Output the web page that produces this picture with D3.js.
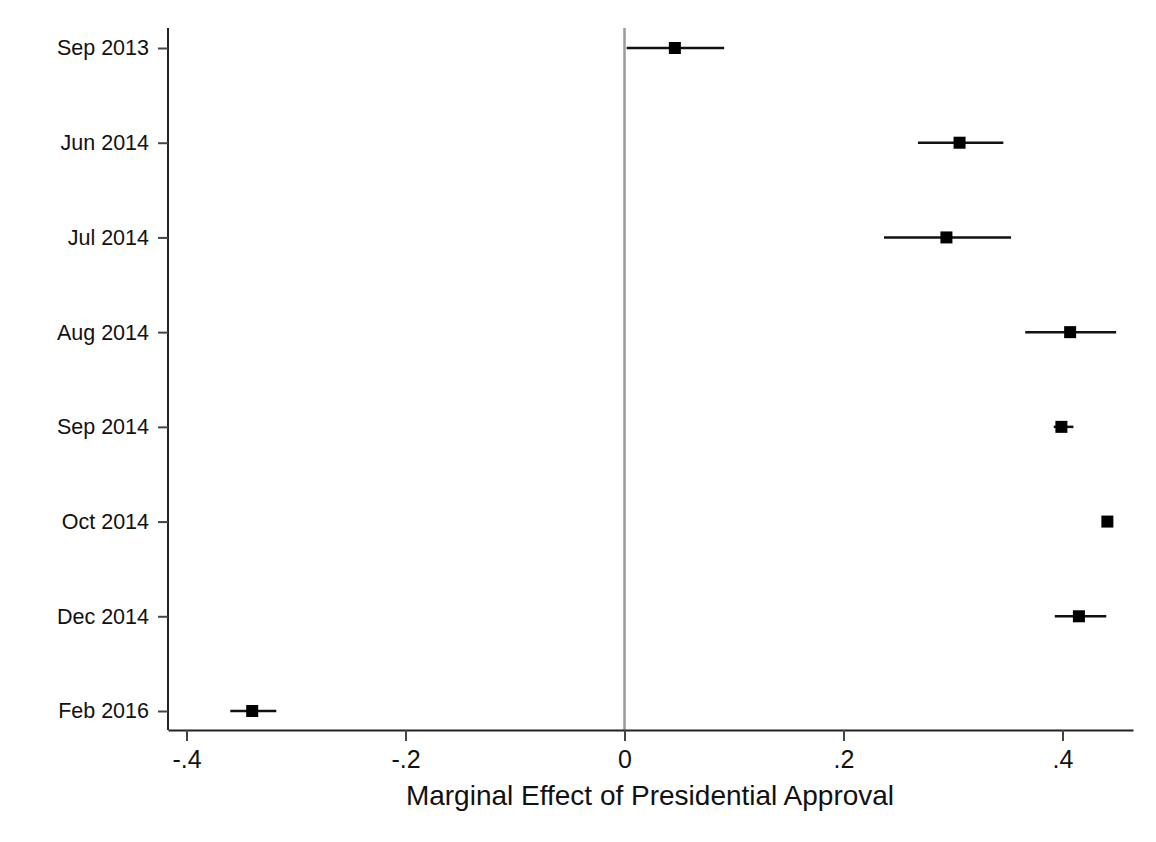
<!DOCTYPE html>
<html>
<head>
<meta charset="utf-8">
<script src="https://cdn.jsdelivr.net/npm/d3@7/dist/d3.min.js"></script>
<style>
  html, body { margin: 0; padding: 0; background: #fff; }
  svg { display: block; }
  text { font-family: "Liberation Sans", Arial, Helvetica, sans-serif; fill: #111; }
</style>
</head>
<body>
<svg id="chart" width="1156" height="842"></svg>
<script>
const categories = ["Sep 2013", "Jun 2014", "Jul 2014", "Aug 2014", "Sep 2014", "Oct 2014", "Dec 2014", "Feb 2016"];
const estimates  = [0.046, 0.306, 0.294, 0.407, 0.399, 0.441, 0.415, -0.340];
const lowerCI    = [0.002, 0.268, 0.237, 0.366, 0.392, 0.437, 0.393, -0.360];
const upperCI    = [0.091, 0.346, 0.353, 0.449, 0.410, 0.446, 0.440, -0.318];
const xTicks     = [-0.4, -0.2, 0, 0.2, 0.4];
const xTickLabels = ["-.4", "-.2", "0", ".2", ".4"];
const xTitle = "Marginal Effect of Presidential Approval";

const svg = d3.select("#chart");
const plotLeft = 168, plotRight = 1133, plotTop = 28, plotBottom = 730;

const x = d3.scaleLinear()
  .domain([-0.4169, 0.4644])
  .range([plotLeft, plotRight]);

const y = d3.scalePoint()
  .domain(categories)
  .range([48, 711]);

// zero reference line
svg.append("line")
  .attr("x1", x(0)).attr("x2", x(0))
  .attr("y1", plotTop).attr("y2", plotBottom)
  .attr("stroke", "#9a9a9a").attr("stroke-width", 2.5);

// x axis
const xAxis = d3.axisBottom(x)
  .tickValues(xTicks)
  .tickFormat((d, i) => xTickLabels[i])
  .tickSize(11)
  .tickSizeOuter(0)
  .tickPadding(9);
const gx = svg.append("g").attr("transform", `translate(0,${plotBottom})`).call(xAxis);
gx.select(".domain").attr("stroke", "#222").attr("stroke-width", 2);
gx.selectAll(".tick line").attr("stroke", "#444").attr("stroke-width", 2);
gx.selectAll(".tick text")
  .attr("font-family", "Liberation Sans, Arial, sans-serif")
  .attr("font-size", 25).attr("fill", "#111");

// y axis
const yAxis = d3.axisLeft(y)
  .tickSize(10)
  .tickSizeOuter(0)
  .tickPadding(9);
const gy = svg.append("g").attr("transform", `translate(${plotLeft},0)`).call(yAxis);
gy.select(".domain").attr("d", `M0,${plotTop}V${plotBottom}`).attr("stroke", "#222").attr("stroke-width", 2);
gy.selectAll(".tick line").attr("stroke", "#444").attr("stroke-width", 2);
gy.selectAll(".tick text")
  .attr("font-family", "Liberation Sans, Arial, sans-serif")
  .attr("font-size", 21.5).attr("fill", "#111");

// axis title
svg.append("text")
  .attr("x", 650).attr("y", 805)
  .attr("text-anchor", "middle")
  .attr("font-size", 28)
  .text(xTitle);

// confidence intervals
const rows = categories.map((c, i) => ({c, est: estimates[i], lo: lowerCI[i], hi: upperCI[i]}));
svg.append("g").selectAll("line.ci").data(rows).join("line")
  .attr("class", "ci")
  .attr("x1", d => x(d.lo)).attr("x2", d => x(d.hi))
  .attr("y1", d => y(d.c)).attr("y2", d => y(d.c))
  .attr("stroke", "#111").attr("stroke-width", 2.5);

// point estimates
const s = 12;
svg.append("g").selectAll("rect.pt").data(rows).join("rect")
  .attr("class", "pt")
  .attr("x", d => x(d.est) - s / 2).attr("y", d => y(d.c) - s / 2)
  .attr("width", s).attr("height", s)
  .attr("fill", "#000");
</script>
</body>
</html>
